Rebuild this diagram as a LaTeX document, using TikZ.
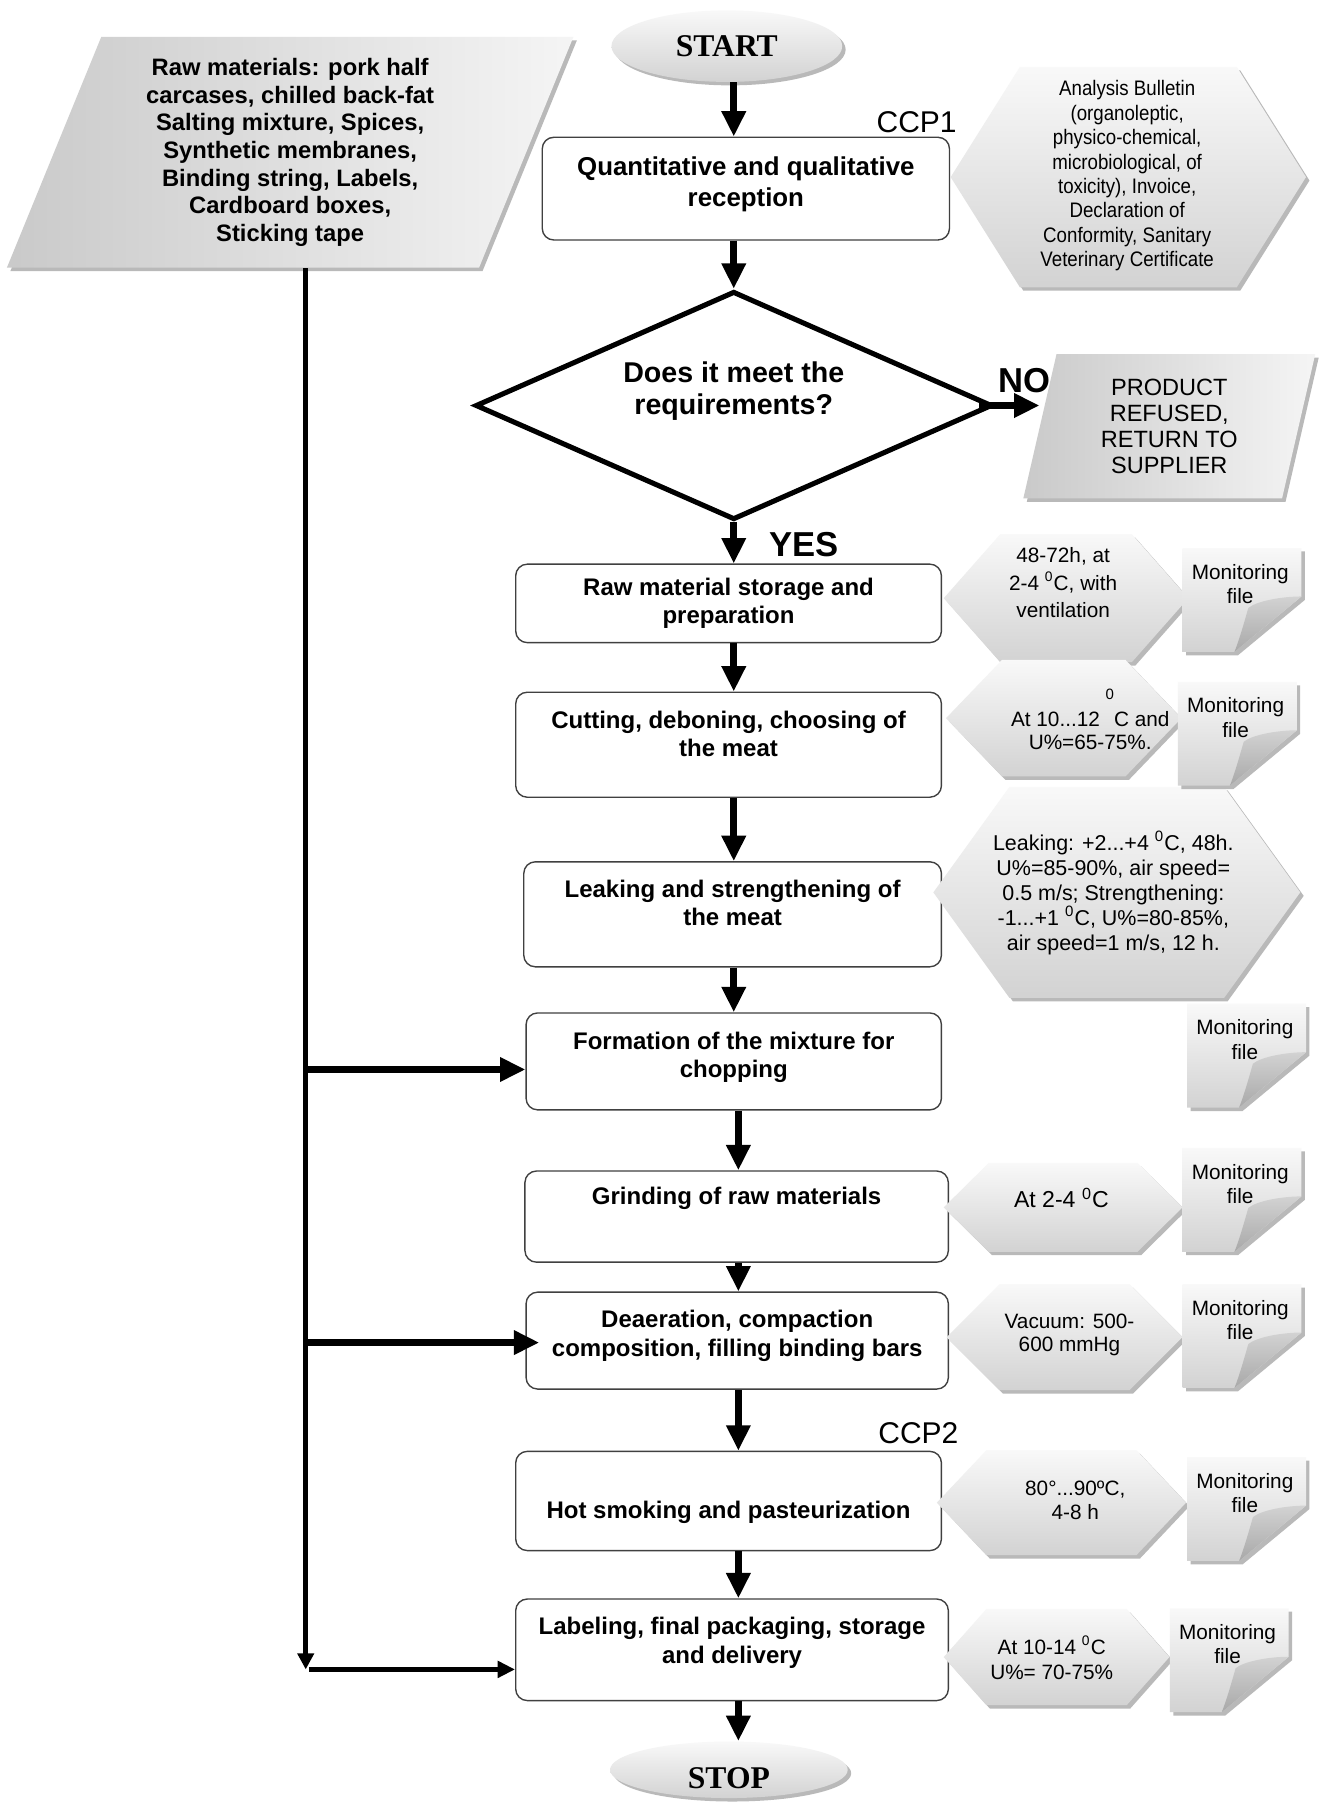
\documentclass[tikz,border=0pt]{standalone}
\usepackage{fontspec}
\setmainfont{Liberation Sans}
\newfontfamily\timesfont{Liberation Serif}
\newfontfamily\narrowfont[FakeStretch=0.89]{Liberation Sans}
\usetikzlibrary{arrows.meta,shapes.geometric,shadows}

\tikzset{
  hexsize/.code args={#1/#2/#3}{\def\hexW{#1}\def\hexH{#2}\def\hexT{#3}},
  castshadow/.style={drop shadow={shadow xshift=1.5pt,shadow yshift=-1.5pt,fill=gray!55,opacity=1}},
  greyfill/.style={top color=gray!5,bottom color=gray!35,castshadow},
  hexa/.pic={
    \path[greyfill] (-\hexW,0) -- (-\hexW+\hexT,-\hexH) -- (\hexW-\hexT,-\hexH)
      -- (\hexW,0) -- (\hexW-\hexT,\hexH) -- (-\hexW+\hexT,\hexH) -- cycle;
  },
  monfile/.pic={
    \path[greyfill] (0,0) -- (103,0) -- (103,42) -- (45,90) -- (0,90) -- cycle;
    \path[top color=gray!35,bottom color=gray!68]
      (103,42) .. controls (86,42) and (64,46) .. (57,52)
      .. controls (53,66) and (49,80) .. (45,90) -- cycle;
    \node[montext] (-t) at (50,31) {Monitoring\\file};
  },
}

\begin{document}
\begin{tikzpicture}[x=0.5pt,y=-0.5pt,
  stepbox/.style={draw=black!75,line width=0.6pt,fill=white,rounded corners=5pt,
    align=center,inner sep=2pt,font=\bfseries\fontsize{10.4}{12.3}\selectfont},
  flow/.style={line width=3pt,-{Triangle[length=11pt,width=10pt]}},
  trunk/.style={line width=2.2pt,-{Triangle[length=7pt,width=7pt]}},
  branch/.style={line width=2.4pt,-{Triangle[length=7.5pt,width=7pt]}},
  hextext/.style={align=center,inner sep=0pt,font=\fontsize{9}{10.7}\selectfont},
  montext/.style={align=center,inner sep=0pt,font=\fontsize{9}{10.5}\selectfont},
  term/.style={ellipse,greyfill,inner sep=0pt,
    font=\timesfont\bfseries\fontsize{13.7}{14}\selectfont},
  slab/.style={trapezium,trapezium stretches body,castshadow,
    left color=gray!42,right color=gray!8,inner sep=0pt,align=center},
  answer/.style={inner sep=0pt,font=\bfseries\fontsize{15}{15}\selectfont},
  ccp/.style={inner sep=0pt,font=\fontsize{13}{13}\selectfont},
]
\useasboundingbox (0,0) rectangle (1144,1568);
\fill[white] (0,0) rectangle (1144,1568);
\coordinate (colA) at (636,0);
\coordinate (colB) at (640,0);

% inputs and terminals
\node[slab,trapezium left angle=63.4,trapezium right angle=116.6,
  minimum width=245.5pt,minimum height=100pt,
  font=\bfseries\fontsize{10.3}{12}\selectfont] (raw) at (251.5,132)
  {Raw materials: pork half\\carcases, chilled back-fat\\Salting mixture, Spices,\\
   Synthetic membranes,\\Binding string, Labels,\\Cardboard boxes,\\Sticking tape};
\node[term,minimum width=100pt,minimum height=31pt] (start) at (630,40) {START};
\node[term,minimum width=103pt,minimum height=24.5pt,text height=16.1pt] (stop) at (631.8,1534) {STOP};

% process column
\node[stepbox,minimum width=176.5pt,minimum height=44.5pt,text depth=6.2pt,
  font=\bfseries\fontsize{11.2}{13.5}\selectfont] (quant) at (646.5,163.5)
  {Quantitative and qualitative\\reception};
\node[diamond,draw,line width=2.2pt,fill=white,aspect=2.3,minimum width=224pt,minimum height=99pt,
  inner sep=0pt,align=center,text depth=15.3pt,
  font=\bfseries\fontsize{12.4}{13.75}\selectfont] (dia) at (636,351.5) {Does it meet the\\requirements?};
\node[slab,trapezium left angle=70.6,trapezium right angle=109.4,
  minimum width=126.5pt,minimum height=62.5pt,
  font=\fontsize{10.2}{11.2}\selectfont] (refused) at (1013.5,369.5) {PRODUCT\\REFUSED,\\RETURN TO\\SUPPLIER};
\node[stepbox,minimum width=184.5pt,minimum height=34pt] (store) at (631.5,523)
  {Raw material storage and\\preparation};
\node[stepbox,minimum width=184.5pt,minimum height=45.5pt,text depth=9.5pt] (cut) at (631.5,645.5)
  {Cutting, deboning, choosing of\\the meat};
\node[stepbox,minimum width=181pt,minimum height=45.5pt,text depth=10pt] (leak) at (635,792.5)
  {Leaking and strengthening of\\the meat};
\node[stepbox,minimum width=180pt,minimum height=42pt,text depth=5.7pt] (form) at (636,920)
  {Formation of the mixture for\\chopping};
\node[stepbox,minimum width=183.5pt,minimum height=39.5pt,text depth=17.7pt] (grind) at (638.5,1054.5)
  {Grinding of raw materials};
\node[stepbox,minimum width=183pt,minimum height=42pt,text depth=6.2pt] (deaer) at (639,1162)
  {Deaeration, compaction\\composition, filling binding bars};
\node[stepbox,minimum width=184.5pt,minimum height=43pt,text height=17.6pt] (hot) at (631.5,1301)
  {Hot smoking and pasteurization};
\node[stepbox,minimum width=187.5pt,minimum height=44pt,text depth=8.2pt] (pack) at (634.5,1430)
  {Labeling, final packaging, storage\\and delivery};

\node[answer] (no) at (888,329.5) {NO};
\node[answer] (yes) at (697,472) {YES};
\node[ccp] (ccp1) at (794.5,105.5) {CCP1};
\node[ccp] (ccp2) at (796,1242) {CCP2};

% control parameters
\pic[hexsize=154/95.5/60] (h0) at (978,153.5) {hexa};
\node[hextext,font=\narrowfont\fontsize{9.1}{10.6}\selectfont] (h0t) at (977,152.4)
  {Analysis Bulletin\\(organoleptic,\\physico-chemical,\\microbiological, of\\toxicity), Invoice,\\
   Declaration of\\Conformity, Sanitary\\Veterinary Certificate};
\pic[hexsize=106/55.5/49] (h1) at (924,518.5) {hexa};
\node[hextext,font=\fontsize{9}{12}\selectfont] (h1t) at (921.5,505)
  {48-72h, at\\2-4 \textsuperscript{0}C, with\\ventilation};
\pic[hexsize=102/50.5/48.5] (h2) at (922,622.5) {hexa};
\node[hextext,font=\fontsize{9}{9.8}\selectfont] (h2t) at (945,633.5)
  {At 10...12 \raisebox{12pt}[0pt][0pt]{\fontsize{6.5}{6.5}\selectfont 0}C and\\U\%=65-75\%.};
\pic[hexsize=159/91.5/66] (h3) at (968,773.5) {hexa};
\node[hextext,font=\fontsize{9.3}{10.75}\selectfont] (h3t) at (965,774)
  {Leaking: +2...+4 \textsuperscript{0}C, 48h.\\U\%=85-90\%, air speed=\\0.5 m/s; Strengthening:\\
   -1...+1 \textsuperscript{0}C, U\%=80-85\%,\\air speed=1 m/s, 12 h.};
\pic[hexsize=103.5/38.5/39] (h4) at (921.5,1046.5) {hexa};
\node[hextext,font=\fontsize{10}{11}\selectfont] (h4t) at (920,1038.6) {At 2-4 \textsuperscript{0}C};
\pic[hexsize=102.25/46/46] (h5) at (922.75,1159) {hexa};
\node[hextext,font=\fontsize{9}{10.2}\selectfont] (h5t) at (927,1157) {Vacuum: 500-\\600 mmHg};
\pic[hexsize=108/45.5/43] (h6) at (920,1302.5) {hexa};
\node[hextext,font=\fontsize{9}{10.5}\selectfont] (h6t) at (932,1300.5) {80°...90ºC,\\4-8 h};
\pic[hexsize=97.8/41.7/37] (h7) at (915.8,1436.3) {hexa};
\node[hextext,font=\fontsize{9}{10.75}\selectfont] (h7t) at (911.6,1437) {At 10-14 \textsuperscript{0}C\\U\%= 70-75\%};

% monitoring files
\pic (d1) at (1025,475) {monfile};
\pic (d2) at (1021,591) {monfile};
\pic (d3) at (1029,870) {monfile};
\pic (d4) at (1025,995) {monfile};
\pic (d5) at (1025,1113) {monfile};
\pic (d6) at (1029,1263) {monfile};
\pic (d7) at (1014,1394) {monfile};

% main flow
\draw[flow] (start.south -| colA) -- (quant.north -| colA);
\draw[flow] (quant.south -| colA) -- (dia.north);
\draw[flow] ([xshift=-7pt]dia.east) -- (dia.east -| refused.west);
\draw[flow] (dia.south) -- (dia.south |- store.north);
\draw[flow] (store.south -| colA) -- (cut.north -| colA);
\draw[flow] (cut.south -| colA) -- (leak.north -| colA);
\draw[flow] (leak.south -| colA) -- (form.north -| colA);
\draw[flow] (form.south -| colB) -- (grind.north -| colB);
\draw[flow] (grind.south -| colB) -- (deaer.north -| colB);
\draw[flow] (deaer.south -| colB) -- (hot.north -| colB);
\draw[flow] (hot.south -| colB) -- (pack.north -| colB);
\draw[flow] (pack.south -| colB) -- (stop.north -| colB);

% material feed
\coordinate (j1) at (265,927);
\coordinate (j2) at (265,1163.7);
\coordinate (j3) at (265,1447);
\draw[trunk] (raw.south -| j1) -- (j3);
\draw[flow] (j1) -- (j1 -| form.west);
\draw[flow] (j2) -- ([xshift=6pt]j2 -| deaer.west);
\draw[branch] ([xshift=1.5pt]j3) -- (j3 -| pack.west);
\end{tikzpicture}
\end{document}
